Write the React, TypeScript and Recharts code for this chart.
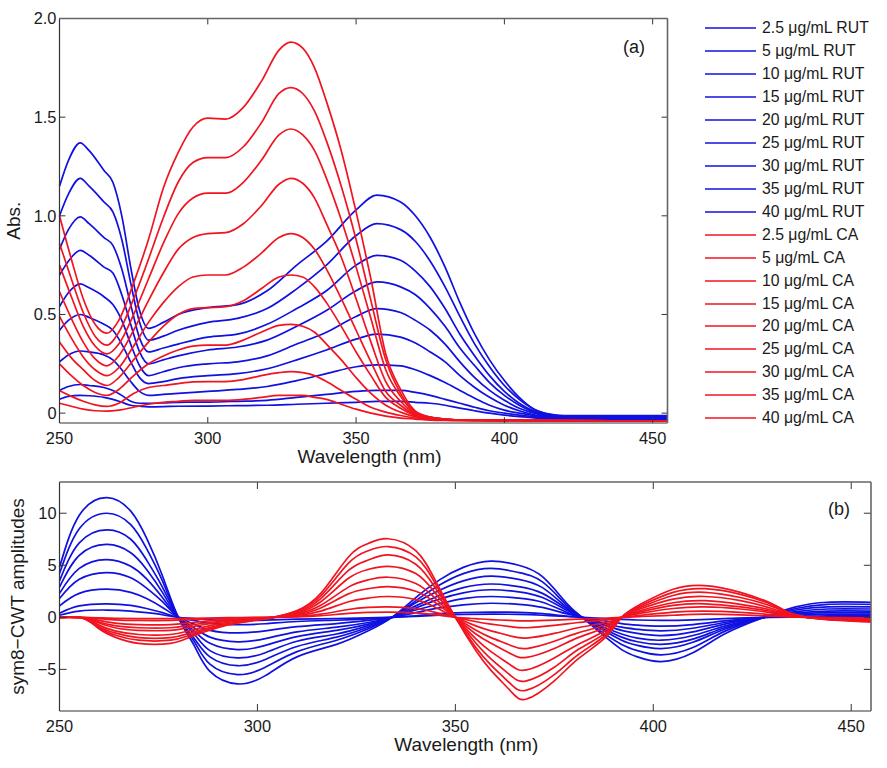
import { LineChart, Line, XAxis, YAxis, Legend, ReferenceLine } from "recharts";

const FONT = '"Liberation Sans", Arial, sans-serif';
const BLUE = "#1010e0";
const RED = "#f01420";
const CONCENTRATIONS = ["2.5", "5", "10", "15", "20", "25", "30", "35", "40"];

const X_TICKS = [250, 300, 350, 400, 450];
const Y_TICKS_A = [0, 0.5, 1, 1.5, 2];
const Y_TICKS_B = [-5, 0, 5, 10];

// panel (a), RUT
const WL_A_RUT = [250, 253, 257, 260, 265, 268, 271, 274, 277, 280, 285, 290, 300, 310, 320, 330, 340, 350, 357, 365, 370, 375, 380, 385, 390, 395, 400, 405, 410, 415, 420, 455];
const A_RUT_40 = [1.15, 1.28, 1.37, 1.33, 1.23, 1.17, 1.0, 0.74, 0.52, 0.43, 0.46, 0.5, 0.535, 0.55, 0.62, 0.75, 0.87, 1.03, 1.105, 1.07, 1.0, 0.89, 0.74, 0.56, 0.4, 0.27, 0.165, 0.08, 0.02, -0.005, -0.012, -0.012];
const A_RUT_35 = [1.0, 1.11, 1.19, 1.15, 1.07, 1.02, 0.88, 0.66, 0.46, 0.37, 0.39, 0.42, 0.46, 0.48, 0.53, 0.63, 0.75, 0.9, 0.96, 0.93, 0.87, 0.77, 0.64, 0.49, 0.35, 0.235, 0.14, 0.07, 0.02, -0.005, -0.015, -0.015];
const A_RUT_30 = [0.83, 0.93, 0.995, 0.96, 0.89, 0.85, 0.73, 0.55, 0.38, 0.31, 0.33, 0.35, 0.385, 0.4, 0.45, 0.53, 0.62, 0.75, 0.8, 0.775, 0.72, 0.64, 0.53, 0.4, 0.29, 0.19, 0.11, 0.05, 0.01, -0.01, -0.018, -0.018];
const A_RUT_25 = [0.7, 0.77, 0.825, 0.8, 0.74, 0.71, 0.6, 0.45, 0.31, 0.25, 0.27, 0.29, 0.32, 0.335, 0.37, 0.44, 0.52, 0.62, 0.665, 0.64, 0.6, 0.53, 0.44, 0.33, 0.24, 0.155, 0.09, 0.04, 0.005, -0.012, -0.02, -0.02];
const A_RUT_20 = [0.54, 0.61, 0.655, 0.635, 0.59, 0.55, 0.47, 0.35, 0.24, 0.19, 0.21, 0.23, 0.25, 0.26, 0.29, 0.35, 0.41, 0.49, 0.53, 0.51, 0.47, 0.42, 0.35, 0.26, 0.18, 0.115, 0.065, 0.025, 0, -0.015, -0.022, -0.022];
const A_RUT_15 = [0.42, 0.47, 0.5, 0.485, 0.45, 0.42, 0.35, 0.26, 0.18, 0.15, 0.16, 0.175, 0.19, 0.2, 0.225, 0.27, 0.32, 0.375, 0.4, 0.385, 0.355, 0.31, 0.26, 0.19, 0.13, 0.08, 0.04, 0.012, -0.008, -0.018, -0.025, -0.025];
const A_RUT_10 = [0.26, 0.295, 0.315, 0.31, 0.295, 0.27, 0.22, 0.16, 0.11, 0.09, 0.095, 0.1, 0.11, 0.12, 0.135, 0.165, 0.2, 0.235, 0.245, 0.24, 0.22, 0.19, 0.155, 0.115, 0.075, 0.04, 0.015, 0, -0.012, -0.022, -0.027, -0.027];
const A_RUT_5 = [0.115, 0.135, 0.145, 0.14, 0.13, 0.115, 0.09, 0.06, 0.05, 0.05, 0.052, 0.055, 0.056, 0.06, 0.065, 0.08, 0.095, 0.11, 0.115, 0.115, 0.105, 0.09, 0.07, 0.05, 0.03, 0.012, 0, -0.01, -0.018, -0.025, -0.03, -0.03];
const A_RUT_2_5 = [0.07, 0.085, 0.09, 0.088, 0.08, 0.07, 0.055, 0.04, 0.035, 0.032, 0.033, 0.035, 0.036, 0.038, 0.04, 0.045, 0.05, 0.055, 0.06, 0.06, 0.055, 0.05, 0.04, 0.025, 0.012, 0, -0.01, -0.018, -0.024, -0.03, -0.034, -0.034];

// panel (a), CA
const WL_A_CA = [250, 254, 258, 262, 266, 270, 275, 280, 285, 290, 295, 300, 306, 312, 318, 324, 328, 332, 336, 340, 345, 350, 355, 360, 365, 370, 375, 380, 385, 455];
const A_CA_40 = [1.0, 0.78, 0.58, 0.45, 0.405, 0.47, 0.66, 0.88, 1.14, 1.32, 1.45, 1.495, 1.49, 1.55, 1.68, 1.84, 1.88, 1.85, 1.75, 1.58, 1.33, 1.02, 0.68, 0.3, 0.12, 0.01, -0.02, -0.03, -0.035, -0.04];
const A_CA_35 = [0.86, 0.68, 0.51, 0.39, 0.345, 0.41, 0.58, 0.78, 0.99, 1.17, 1.27, 1.295, 1.295, 1.35, 1.47, 1.62, 1.65, 1.62, 1.53, 1.38, 1.15, 0.88, 0.57, 0.27, 0.1, 0.005, -0.02, -0.03, -0.035, -0.04];
const A_CA_30 = [0.75, 0.59, 0.44, 0.34, 0.3, 0.35, 0.5, 0.68, 0.86, 1.01, 1.09, 1.115, 1.115, 1.17, 1.28, 1.41, 1.44, 1.41, 1.33, 1.19, 0.98, 0.74, 0.48, 0.22, 0.085, 0, -0.02, -0.03, -0.035, -0.04];
const A_CA_25 = [0.615, 0.48, 0.36, 0.275, 0.24, 0.29, 0.42, 0.57, 0.71, 0.83, 0.89, 0.91, 0.915, 0.96, 1.05, 1.16, 1.19, 1.165, 1.09, 0.96, 0.79, 0.58, 0.36, 0.16, 0.06, -0.005, -0.022, -0.03, -0.035, -0.04];
const A_CA_20 = [0.49, 0.38, 0.285, 0.22, 0.19, 0.23, 0.34, 0.46, 0.56, 0.64, 0.69, 0.7, 0.7, 0.74, 0.81, 0.89, 0.91, 0.89, 0.83, 0.73, 0.58, 0.42, 0.26, 0.11, 0.04, -0.01, -0.025, -0.03, -0.035, -0.04];
const A_CA_15 = [0.36, 0.28, 0.22, 0.165, 0.14, 0.18, 0.27, 0.36, 0.44, 0.5, 0.53, 0.535, 0.54, 0.57, 0.63, 0.69, 0.7, 0.69, 0.64, 0.56, 0.44, 0.31, 0.19, 0.08, 0.025, -0.012, -0.025, -0.032, -0.036, -0.04];
const A_CA_10 = [0.25, 0.19, 0.14, 0.105, 0.09, 0.12, 0.19, 0.25, 0.29, 0.32, 0.34, 0.345, 0.345, 0.37, 0.41, 0.445, 0.45, 0.44, 0.41, 0.35, 0.27, 0.18, 0.1, 0.04, 0.005, -0.018, -0.028, -0.033, -0.036, -0.04];
const A_CA_5 = [0.115, 0.085, 0.06, 0.042, 0.034, 0.05, 0.1, 0.13, 0.14, 0.15, 0.158, 0.16, 0.16, 0.17, 0.19, 0.205, 0.21, 0.205, 0.19, 0.16, 0.115, 0.07, 0.03, 0.005, -0.012, -0.025, -0.032, -0.035, -0.037, -0.04];
const A_CA_2_5 = [0.05, 0.035, 0.02, 0.012, 0.01, 0.015, 0.03, 0.045, 0.055, 0.06, 0.065, 0.065, 0.065, 0.07, 0.08, 0.09, 0.09, 0.09, 0.08, 0.07, 0.045, 0.02, 0, -0.015, -0.025, -0.03, -0.035, -0.037, -0.038, -0.04];

// panel (b), RUT
const WL_B_RUT = [250, 255, 262, 268, 272, 276, 280, 284, 288, 295, 302, 310, 320, 328, 334, 340, 346, 352, 359, 366, 372, 378, 382, 387, 392, 396, 402, 410, 418, 428, 436, 444, 455];
const B_RUT_40 = [4.8, 9.8, 11.5, 10.2, 7.6, 4.0, 0, -2.7, -5.2, -6.4, -5.6, -3.8, -2.6, -1.3, 0, 1.9, 3.6, 4.8, 5.4, 5.0, 3.9, 1.4, 0, -1.6, -3.1, -3.8, -4.25, -3.4, -1.6, 0, 1.0, 1.45, 1.45];
const B_RUT_35 = [4.2, 8.5, 10, 8.9, 6.6, 3.5, 0, -2.3, -4.5, -5.5, -4.8, -3.3, -2.2, -1.1, 0, 1.6, 3.1, 4.2, 4.7, 4.3, 3.4, 1.2, 0, -1.4, -2.6, -3.2, -3.6, -2.9, -1.35, 0, 0.85, 1.25, 1.25];
const B_RUT_30 = [3.5, 7.15, 8.4, 7.5, 5.5, 2.9, 0, -2.0, -3.8, -4.65, -4.05, -2.8, -1.9, -0.95, 0, 1.4, 2.6, 3.5, 3.95, 3.65, 2.85, 1.0, 0, -1.15, -2.2, -2.7, -3.0, -2.4, -1.15, 0, 0.7, 1.0, 1.0];
const B_RUT_25 = [2.9, 5.95, 7, 6.2, 4.6, 2.4, 0, -1.6, -3.2, -3.9, -3.4, -2.3, -1.6, -0.8, 0, 1.1, 2.1, 2.85, 3.2, 2.95, 2.3, 0.85, 0, -1.0, -1.9, -2.35, -2.6, -2.1, -1.0, 0, 0.55, 0.8, 0.8];
const B_RUT_20 = [2.3, 4.7, 5.55, 4.9, 3.7, 1.9, 0, -1.3, -2.5, -3.1, -2.7, -1.85, -1.25, -0.65, 0, 0.9, 1.75, 2.35, 2.65, 2.45, 1.9, 0.7, 0, -0.85, -1.6, -2.0, -2.2, -1.75, -0.85, 0, 0.42, 0.6, 0.6];
const B_RUT_15 = [1.8, 3.65, 4.3, 3.8, 2.8, 1.5, 0, -1.0, -1.9, -2.35, -2.05, -1.4, -0.95, -0.5, 0, 0.7, 1.3, 1.8, 2.0, 1.85, 1.45, 0.5, 0, -0.65, -1.25, -1.55, -1.75, -1.4, -0.65, 0, 0.32, 0.45, 0.45];
const B_RUT_10 = [1.1, 2.3, 2.7, 2.4, 1.8, 0.95, 0, -0.65, -1.25, -1.5, -1.3, -0.9, -0.6, -0.3, 0, 0.45, 0.9, 1.2, 1.35, 1.25, 0.95, 0.35, 0, -0.5, -0.95, -1.15, -1.3, -1.05, -0.5, 0, 0.2, 0.3, 0.3];
const B_RUT_5 = [0.4, 1.1, 1.3, 1.15, 0.85, 0.45, 0, -0.3, -0.58, -0.7, -0.62, -0.4, -0.28, -0.15, 0, 0.15, 0.35, 0.45, 0.5, 0.48, 0.35, 0.12, 0, -0.3, -0.6, -0.75, -0.85, -0.7, -0.35, 0, 0.1, 0.15, 0.15];
const B_RUT_2_5 = [0.2, 0.6, 0.7, 0.6, 0.45, 0.25, 0, -0.12, -0.25, -0.3, -0.27, -0.18, -0.12, -0.06, 0, 0.1, 0.2, 0.27, 0.3, 0.28, 0.2, 0.08, 0, -0.1, -0.2, -0.26, -0.3, -0.25, -0.12, 0, 0.03, 0.05, 0.05];

// panel (b), CA
const WL_B_CA = [250, 256, 260, 264, 270, 278, 283, 290, 296, 304, 310, 316, 323, 328, 333, 340, 345, 350, 355, 359, 364, 368, 375, 381, 388, 392, 397, 405, 413, 422, 430, 434, 439, 447, 455];
const B_CA_40 = [0, -0.1, -1.1, -1.9, -2.5, -2.5, -1.9, -1.0, -0.5, 0, 0.65, 2.3, 5.8, 7.1, 7.55, 6.4, 3.5, 0, -3.1, -5.1, -7.1, -7.85, -6.1, -4.0, -1.9, 0, 1.3, 2.7, 3.05, 2.4, 1.3, 0.5, 0, -0.3, -0.45];
const B_CA_35 = [0, -0.1, -1.0, -1.7, -2.2, -2.2, -1.7, -0.9, -0.45, 0, 0.6, 2.05, 5.2, 6.4, 6.8, 5.8, 3.2, 0, -2.8, -4.6, -6.4, -7.0, -5.5, -3.6, -1.7, 0, 1.15, 2.4, 2.75, 2.2, 1.2, 0.45, 0, -0.28, -0.42];
const B_CA_30 = [0, -0.08, -0.9, -1.5, -1.95, -1.95, -1.5, -0.8, -0.4, 0, 0.5, 1.8, 4.5, 5.5, 6, 5.1, 2.8, 0, -2.4, -4.0, -5.6, -6.1, -4.8, -3.1, -1.5, 0, 1.0, 2.1, 2.4, 1.9, 1.05, 0.4, 0, -0.25, -0.38];
const B_CA_25 = [0, -0.07, -0.75, -1.3, -1.65, -1.65, -1.25, -0.65, -0.33, 0, 0.42, 1.5, 3.75, 4.6, 4.9, 4.2, 2.3, 0, -2.0, -3.3, -4.6, -5.05, -3.9, -2.6, -1.25, 0, 0.85, 1.75, 2.0, 1.6, 0.85, 0.33, 0, -0.2, -0.3];
const B_CA_20 = [0, -0.05, -0.55, -1.0, -1.25, -1.25, -0.95, -0.5, -0.25, 0, 0.32, 1.15, 2.9, 3.6, 3.85, 3.25, 1.8, 0, -1.55, -2.5, -3.5, -3.85, -3.0, -1.95, -0.95, 0, 0.68, 1.4, 1.6, 1.25, 0.68, 0.26, 0, -0.16, -0.24];
const B_CA_15 = [0, -0.04, -0.45, -0.8, -1.0, -1.0, -0.75, -0.4, -0.2, 0, 0.25, 0.9, 2.25, 2.75, 2.95, 2.5, 1.4, 0, -1.2, -1.95, -2.7, -3.0, -2.3, -1.5, -0.72, 0, 0.55, 1.15, 1.3, 1.0, 0.55, 0.2, 0, -0.13, -0.2];
const B_CA_10 = [0, -0.03, -0.3, -0.55, -0.7, -0.7, -0.52, -0.28, -0.14, 0, 0.18, 0.6, 1.5, 1.85, 2.0, 1.7, 0.95, 0, -0.8, -1.3, -1.8, -2.0, -1.55, -1.0, -0.5, 0, 0.4, 0.85, 1.0, 0.8, 0.42, 0.15, 0, -0.1, -0.15];
const B_CA_5 = [0, -0.02, -0.13, -0.24, -0.3, -0.3, -0.22, -0.12, -0.06, 0, 0.09, 0.3, 0.75, 0.95, 1.0, 0.85, 0.48, 0, -0.4, -0.65, -0.9, -1.0, -0.78, -0.5, -0.25, 0, 0.2, 0.5, 0.6, 0.48, 0.25, 0.09, 0, -0.06, -0.09];
const B_CA_2_5 = [0, -0.01, -0.05, -0.1, -0.12, -0.12, -0.09, -0.05, -0.02, 0, 0.04, 0.15, 0.38, 0.47, 0.5, 0.43, 0.24, 0, -0.13, -0.22, -0.3, -0.35, -0.27, -0.18, -0.09, 0, 0.08, 0.2, 0.3, 0.24, 0.12, 0.05, 0, -0.03, -0.05];

const A_RUT = [A_RUT_2_5, A_RUT_5, A_RUT_10, A_RUT_15, A_RUT_20, A_RUT_25, A_RUT_30, A_RUT_35, A_RUT_40];
const A_CA = [A_CA_2_5, A_CA_5, A_CA_10, A_CA_15, A_CA_20, A_CA_25, A_CA_30, A_CA_35, A_CA_40];
const B_RUT = [B_RUT_2_5, B_RUT_5, B_RUT_10, B_RUT_15, B_RUT_20, B_RUT_25, B_RUT_30, B_RUT_35, B_RUT_40];
const B_CA = [B_CA_2_5, B_CA_5, B_CA_10, B_CA_15, B_CA_20, B_CA_25, B_CA_30, B_CA_35, B_CA_40];

const toRows = (wl: number[], values: number[]) => wl.map((w, i) => ({ w, v: values[i] }));

const tickStyle = { fontSize: 16.4, fill: "#1a1a1a", fontFamily: FONT };
const labelStyle = { fontSize: 19, fill: "#1a1a1a", fontFamily: FONT, textAnchor: "middle" as const };
const darkAxis = { stroke: "#333", strokeWidth: 1.2 };
const greyAxis = { stroke: "#666", strokeWidth: 1.6 };

function seriesLines(wlRut: number[], rut: number[][], wlCa: number[], ca: number[][], curve: "monotone" | "natural") {
  return [
    ...rut.map((values, i) => (
      <Line
        key={`rut-${i}`}
        data={toRows(wlRut, values)}
        dataKey="v"
        name={`${CONCENTRATIONS[i]} μg/mL RUT`}
        type={curve}
        stroke={BLUE}
        strokeWidth={1.7}
        dot={false}
        isAnimationActive={false}
      />
    )),
    ...ca.map((values, i) => (
      <Line
        key={`ca-${i}`}
        data={toRows(wlCa, values)}
        dataKey="v"
        name={`${CONCENTRATIONS[i]} μg/mL CA`}
        type={curve}
        stroke={RED}
        strokeWidth={1.7}
        dot={false}
        isAnimationActive={false}
      />
    )),
  ];
}

// top and right edges of the box
function frameAxes(yTicks: number[], yDomain: number[]) {
  return [
    <XAxis
      key="x-top"
      xAxisId="top"
      orientation="top"
      type="number"
      dataKey="w"
      domain={[250, 455]}
      ticks={X_TICKS}
      interval={0}
      height={1}
      tick={false}
      tickLine={false}
      axisLine={greyAxis}
    />,
    <YAxis
      key="y-right"
      yAxisId="right"
      orientation="right"
      type="number"
      domain={yDomain}
      ticks={yTicks}
      interval={0}
      width={1}
      tick={false}
      tickLine={false}
      axisLine={greyAxis}
    />,
  ];
}

// matlab style ticks, pointing into the box on all four sides
function innerTicks(yTicks: number[], yMin: number, yMax: number, dx: number, dy: number) {
  const tick = (key: string, x1: number, y1: number, x2: number, y2: number) => (
    <ReferenceLine
      key={key}
      segment={[{ x: x1, y: y1 }, { x: x2, y: y2 }]}
      stroke="#333"
      strokeWidth={1}
    />
  );
  return [
    ...X_TICKS.slice(1).map((x) => tick(`b${x}`, x, yMin, x, yMin + dy)),
    ...X_TICKS.slice(1).map((x) => tick(`t${x}`, x, yMax, x, yMax - dy)),
    ...yTicks.map((y) => tick(`l${y}`, 250, y, 250 + dx, y)),
    ...yTicks.map((y) => tick(`r${y}`, 455, y, 455 - dx, y)),
  ];
}

function LegendList({ payload }: any) {
  return (
    <div style={{ fontFamily: FONT, fontSize: 15.8, color: "#1a1a1a" }}>
      {(payload || []).map((item: any) => (
        <div key={item.value} style={{ display: "flex", alignItems: "center", height: 22.94 }}>
          <svg width={51} height={4} style={{ flexShrink: 0 }}>
            <line x1={0} y1={2} x2={51} y2={2} stroke={item.color} strokeWidth={1.7} />
          </svg>
          <span style={{ marginLeft: 6, whiteSpace: "nowrap" }}>{item.value}</span>
        </div>
      ))}
    </div>
  );
}

export default function App() {
  return (
    <div style={{ position: "absolute", left: 0, top: 0, width: 887, height: 768, background: "#fff" }}>
      <div style={{ position: "absolute", left: 0, top: 0 }}>
        <LineChart width={887} height={470} margin={{ top: 17.5, right: 218.5, bottom: 0, left: 0 }}>
          <XAxis
            type="number"
            dataKey="w"
            domain={[250, 455]}
            ticks={X_TICKS}
            interval={0}
            height={47}
            tickSize={0}
            tickMargin={9}
            tick={tickStyle}
            axisLine={darkAxis}
            tickLine={false}
            label={{ value: "Wavelength (nm)", position: "insideBottom", offset: 7, dx: 6, style: labelStyle }}
          />
          <YAxis
            type="number"
            domain={[-0.05, 2]}
            ticks={Y_TICKS_A}
            interval={0}
            width={59.5}
            tickSize={0}
            tickMargin={3}
            tick={tickStyle}
            tickFormatter={(v: number) => (v === 0 ? "0" : v.toFixed(1))}
            axisLine={darkAxis}
            tickLine={false}
            label={{ value: "Abs.", angle: -90, position: "insideLeft", offset: 13, style: labelStyle }}
          />
          {frameAxes(Y_TICKS_A, [-0.05, 2])}
          {seriesLines(WL_A_RUT, A_RUT, WL_A_CA, A_CA, "monotone")}
          {innerTicks(Y_TICKS_A, -0.05, 2, 2, 0.03)}
          <Legend
            layout="vertical"
            align="center"
            verticalAlign="middle"
            itemSorter={null}
            content={<LegendList />}
            wrapperStyle={{ left: 705, top: 16.8, width: 175 }}
          />
        </LineChart>
      </div>
      <div style={{ position: "absolute", left: 0, top: 470 }}>
        <LineChart width={887} height={298} margin={{ top: 11, right: 15, bottom: 0, left: 0 }}>
          <XAxis
            type="number"
            dataKey="w"
            domain={[250, 455]}
            ticks={X_TICKS}
            interval={0}
            height={57}
            tickSize={0}
            tickMargin={9}
            tick={tickStyle}
            axisLine={darkAxis}
            tickLine={false}
            label={{ value: "Wavelength (nm)", position: "insideBottom", offset: 17, dx: 1, style: labelStyle }}
          />
          <YAxis
            type="number"
            domain={[-9, 13]}
            ticks={Y_TICKS_B}
            interval={0}
            width={59.5}
            tickSize={0}
            tickMargin={3}
            tick={tickStyle}
            tickFormatter={(v: number) => (v < 0 ? `−${-v}` : `${v}`)}
            axisLine={darkAxis}
            tickLine={false}
            label={{ value: "sym8−CWT amplitudes", angle: -90, position: "insideLeft", offset: 17, style: labelStyle }}
          />
          {frameAxes(Y_TICKS_B, [-9, 13])}
          {seriesLines(WL_B_RUT, B_RUT, WL_B_CA, B_CA, "natural")}
          {innerTicks(Y_TICKS_B, -9, 13, 1.8, 0.67)}
        </LineChart>
      </div>
      <div style={{ position: "absolute", left: 623, top: 37, fontFamily: FONT, fontSize: 18, color: "#1a1a1a" }}>(a)</div>
      <div style={{ position: "absolute", left: 828, top: 499, fontFamily: FONT, fontSize: 18, color: "#1a1a1a" }}>(b)</div>
    </div>
  );
}
